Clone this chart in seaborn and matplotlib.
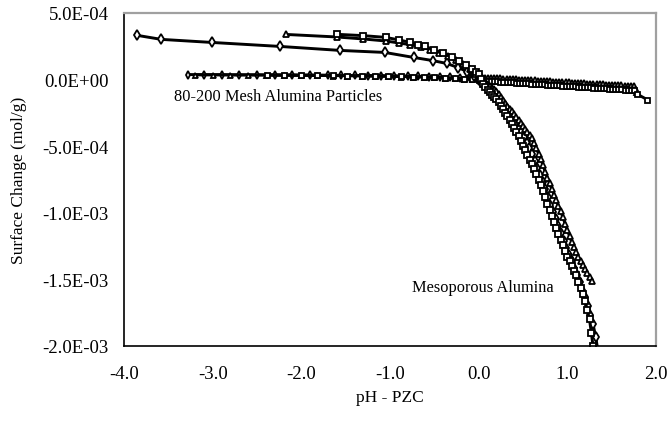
import numpy as np
import pandas as pd
import matplotlib
matplotlib.use("Agg")
import matplotlib.pyplot as plt
from matplotlib.ticker import MultipleLocator, FuncFormatter
import seaborn as sns

# ---------------- data (surface charge values in units of 1e-4 mol/g) ----------------
# Mesoporous alumina
meso_dia_x = [-3.85, -3.58, -3.01, -2.24, -1.56, -1.06, -0.73, -0.52, -0.36, -0.23, -0.13, -0.05,
              0.00, 0.03, 0.06, 0.09, 0.12, 0.15, 0.18, 0.21, 0.24, 0.27, 0.30, 0.33, 0.36, 0.39,
              0.42, 0.45, 0.48, 0.51, 0.54, 0.57, 0.60, 0.63, 0.66, 0.69, 0.72, 0.75, 0.78, 0.81,
              0.84, 0.87, 0.90, 0.93, 0.96, 0.99, 1.02, 1.05, 1.08, 1.11, 1.14, 1.17, 1.20, 1.23,
              1.26, 1.29, 1.32, 1.35]
meso_dia_y = [3.32, 3.02, 2.79, 2.49, 2.19, 2.04, 1.66, 1.43, 1.21, 0.90, 0.60, 0.25,
              0.00, -0.17, -0.33, -0.50, -0.66, -0.83, -0.99, -1.19, -1.46, -1.73, -2.00, -2.30, -2.60, -2.90,
              -3.24, -3.60, -3.96, -4.33, -4.74, -5.15, -5.55, -6.08, -6.61, -7.14, -7.68, -8.25, -8.82, -9.38,
              -9.94, -10.48, -11.00, -11.54, -12.08, -12.62, -13.14, -13.65, -14.16, -14.68, -15.22, -15.76, -16.30, -16.99,
              -17.68, -18.37, -19.30, -20.60]

meso_tri_x = [-2.17, -1.60, -1.30, -1.05, -0.90, -0.77, -0.65, -0.55, -0.45, -0.35, -0.26, -0.18, -0.10, -0.04,
              0.000, 0.025, 0.050, 0.075, 0.100, 0.125, 0.150, 0.175, 0.200, 0.225, 0.250, 0.275, 0.300,
              0.325, 0.350, 0.375, 0.400, 0.425, 0.450, 0.475, 0.500, 0.525, 0.550, 0.575, 0.600, 0.625,
              0.650, 0.675, 0.700, 0.725, 0.750, 0.775, 0.800, 0.825, 0.850, 0.875, 0.900, 0.925, 0.950,
              0.975, 1.000, 1.025, 1.050, 1.075, 1.100, 1.125, 1.150, 1.175, 1.200, 1.225, 1.250, 1.275]
meso_tri_y = [3.39, 3.20, 3.05, 2.90, 2.75, 2.62, 2.45, 2.25, 2.00, 1.75, 1.45, 1.15, 0.80, 0.40,
              0.05, -0.07, -0.17, -0.28, -0.40, -0.51, -0.62, -0.73, -0.85, -1.07, -1.30, -1.52, -1.75,
              -1.96, -2.17, -2.38, -2.60, -2.82, -3.05, -3.27, -3.50, -3.72, -3.95, -4.18, -4.40, -4.75,
              -5.15, -5.55, -5.95, -6.42, -6.90, -7.36, -7.80, -8.22, -8.63, -9.05, -9.47, -9.88, -10.35,
              -10.82, -11.30, -11.75, -12.20, -12.60, -12.95, -13.30, -13.65, -13.95, -14.25, -14.55, -14.85, -15.15]

meso_sq_x = [-1.60, -1.30, -1.05, -0.90, -0.77, -0.68, -0.60, -0.50, -0.40, -0.30, -0.22, -0.14, -0.08, -0.03,
             0.000, 0.025, 0.050, 0.075, 0.100, 0.125, 0.150, 0.175, 0.200, 0.225, 0.250, 0.275, 0.300,
             0.325, 0.350, 0.375, 0.400, 0.425, 0.450, 0.475, 0.500, 0.525, 0.550, 0.575, 0.600, 0.625,
             0.650, 0.675, 0.700, 0.725, 0.750, 0.775, 0.800, 0.825, 0.850, 0.875, 0.900, 0.925, 0.950,
             0.975, 1.000, 1.025, 1.050, 1.075, 1.100, 1.125, 1.150, 1.175, 1.200, 1.225, 1.250, 1.270, 1.290]
meso_sq_y = [3.40, 3.30, 3.17, 2.98, 2.79, 2.62, 2.49, 2.19, 1.96, 1.66, 1.36, 1.13, 0.83, 0.55,
             0.40, 0.05, -0.35, -0.58, -0.80, -0.96, -1.12, -1.28, -1.45, -1.70, -1.97, -2.23, -2.50,
             -2.77, -3.05, -3.32, -3.60, -3.93, -4.27, -4.61, -4.95, -5.30, -5.65, -6.00, -6.35, -6.73,
             -7.12, -7.51, -7.90, -8.37, -8.85, -9.32, -9.80, -10.25, -10.70, -11.15, -11.60, -12.02, -12.45,
             -12.88, -13.30, -13.65, -14.00, -14.35, -14.70, -15.17, -15.65, -16.12, -16.60, -17.30, -18.00, -19.00, -20.00]

# 80-200 mesh alumina particles
mesh_pos_x = [0.000, 0.035, 0.070, 0.105, 0.140, 0.175, 0.210, 0.245, 0.280, 0.315, 0.350, 0.385, 0.420,
              0.455, 0.490, 0.525, 0.560, 0.595, 0.630, 0.665, 0.700, 0.735, 0.770, 0.805, 0.840, 0.875,
              0.910, 0.945, 0.980, 1.015, 1.050, 1.085, 1.120, 1.155, 1.190, 1.225, 1.260, 1.295, 1.330,
              1.365, 1.400, 1.435, 1.470, 1.505, 1.540, 1.575, 1.610, 1.645, 1.680, 1.715, 1.750]

mesh_dia_x = [-3.28, -3.10, -2.90, -2.70, -2.50, -2.30, -2.10, -1.90, -1.70, -1.55, -1.40, -1.25, -1.10, -0.95,
              -0.80, -0.68, -0.56, -0.44, -0.32, -0.21, -0.10] + mesh_pos_x + [1.77]
mesh_dia_y = [0.38, 0.37, 0.37, 0.36, 0.36, 0.35, 0.34, 0.34, 0.33, 0.32, 0.31, 0.30, 0.29, 0.28,
              0.26, 0.24, 0.22, 0.20, 0.17, 0.14, 0.12,
              0.10, 0.09, 0.07, 0.06, 0.05, 0.03, 0.02, 0.01, -0.01, -0.02,
              -0.03, -0.05, -0.06, -0.07, -0.09, -0.10, -0.11, -0.13, -0.14, -0.15,
              -0.17, -0.18, -0.19, -0.21, -0.22, -0.23, -0.25, -0.26, -0.27, -0.29,
              -0.30, -0.31, -0.33, -0.34, -0.35, -0.37, -0.38, -0.39, -0.41, -0.42,
              -0.43, -0.45, -0.46, -0.47, -0.49, -0.50, -0.51, -0.53, -0.54, -0.56,
              -0.57, -0.85]

mesh_tri_x = [-3.20, -3.00, -2.80, -2.60, -2.40, -2.20, -2.00, -1.82, -1.64, -1.48, -1.32, -1.17, -1.02, -0.88,
              -0.74, -0.62, -0.50, -0.38, -0.27, -0.16, -0.07] + mesh_pos_x + [1.77]
mesh_tri_y = [0.36, 0.36, 0.35, 0.35, 0.34, 0.33, 0.32, 0.31, 0.30, 0.29, 0.28, 0.26, 0.25, 0.23,
              0.21, 0.19, 0.16, 0.13, 0.10, 0.07, 0.05,
              0.03, 0.02, 0.00, -0.01, -0.03, -0.04, -0.06, -0.07, -0.08, -0.10,
              -0.11, -0.13, -0.14, -0.16, -0.17, -0.18, -0.20, -0.21, -0.23, -0.24,
              -0.26, -0.27, -0.28, -0.30, -0.31, -0.33, -0.34, -0.36, -0.37, -0.38,
              -0.40, -0.41, -0.43, -0.44, -0.46, -0.47, -0.48, -0.50, -0.51, -0.53,
              -0.54, -0.56, -0.57, -0.58, -0.60, -0.61, -0.63, -0.64, -0.66, -0.67,
              -0.68, -0.95]

mesh_sq_x = [-2.39, -2.20, -2.00, -1.82, -1.64, -1.48, -1.32, -1.17, -1.02, -0.88, -0.74, -0.62, -0.50, -0.38,
             -0.27, -0.16, -0.07] + mesh_pos_x + [1.79, 1.90]
mesh_sq_y = [0.35, 0.34, 0.33, 0.32, 0.31, 0.30, 0.29, 0.28, 0.26, 0.25, 0.23, 0.21, 0.18, 0.15,
             0.11, 0.07, 0.02,
             -0.04, -0.06, -0.07, -0.09, -0.10, -0.12, -0.13, -0.15, -0.16, -0.18,
             -0.19, -0.21, -0.22, -0.24, -0.25, -0.27, -0.28, -0.30, -0.31, -0.33,
             -0.34, -0.36, -0.37, -0.39, -0.40, -0.42, -0.43, -0.45, -0.46, -0.48,
             -0.49, -0.51, -0.52, -0.54, -0.55, -0.57, -0.58, -0.60, -0.61, -0.63,
             -0.64, -0.66, -0.67, -0.69, -0.70, -0.72, -0.73, -0.75, -0.76, -0.78,
             -0.79, -1.10, -1.50]

x_ticks = [-4.0, -3.0, -2.0, -1.0, 0.0, 1.0, 2.0]
y_ticks = [-2.0e-3, -1.5e-3, -1.0e-3, -5.0e-4, 0.0, 5.0e-4]
label_mesh = "80-200 Mesh Alumina Particles"
label_meso = "Mesoporous Alumina"
x_label = "pH - PZC"
y_label = "Surface Change (mol/g)"

# ---------------- figure ----------------
sns.set_theme(style="white")
plt.rcParams["font.family"] = ["Liberation Serif", "DejaVu Serif"]

fig = plt.figure(figsize=(6.69, 4.27), dpi=100)
ax = fig.add_axes([124 / 669, 1 - 347 / 427, (656 - 124) / 669, (347 - 14) / 427])

series = [
    (mesh_dia_x, mesh_dia_y, "d", 4.2),
    (mesh_tri_x, mesh_tri_y, "^", 3.6),
    (mesh_sq_x, mesh_sq_y, "s", 3.6),
    (meso_dia_x, meso_dia_y, "d", 4.8),
    (meso_tri_x, meso_tri_y, "^", 4.4),
    (meso_sq_x, meso_sq_y, "s", 5.0),
]
for xs, ys, mk, ms in series:
    df = pd.DataFrame({"x": xs, "y": np.array(ys) * 1e-4})
    sns.lineplot(data=df, x="x", y="y", ax=ax, sort=False, estimator=None,
                 color="black", linewidth=2.1, marker=mk, markersize=ms,
                 markerfacecolor="white", markeredgecolor="black", markeredgewidth=1.3)

ax.set_xlim(-4.0, 2.0)
ax.set_ylim(-2.0e-3, 5.0e-4)
ax.set_xticks(x_ticks)
ax.set_yticks(y_ticks)
ax.xaxis.set_minor_locator(MultipleLocator(0.2))
ax.yaxis.set_minor_locator(MultipleLocator(1e-4))
ax.xaxis.set_major_formatter(FuncFormatter(lambda v, p: f"{v:.1f}"))
ax.yaxis.set_major_formatter(FuncFormatter(lambda v, p: f"{v:.1E}"))
ax.tick_params(which="both", direction="in", length=4, width=1, color="black",
               top=False, right=False, labelsize=13.5, labelcolor="black")
ax.tick_params(axis="x", which="major", pad=14)
ax.tick_params(axis="y", which="major", pad=11)

for side in ["left", "bottom"]:
    ax.spines[side].set_color("black")
    ax.spines[side].set_linewidth(1.2)
for side in ["top", "right"]:
    ax.spines[side].set_visible(True)
    ax.spines[side].set_color("#a0a0a0")
    ax.spines[side].set_linewidth(1.6)

ax.set_xlabel(x_label, fontsize=12.5, labelpad=5, color="black")
ax.set_ylabel(y_label, fontsize=12.5, labelpad=11, color="black")

ax.text(-3.44, -1.2e-4, label_mesh, fontsize=11.8, ha="left", va="center", color="black")
ax.text(-0.75, -1.56e-3, label_meso, fontsize=11.8, ha="left", va="center", color="black")

fig.savefig("out.png", dpi=100, facecolor="white")
